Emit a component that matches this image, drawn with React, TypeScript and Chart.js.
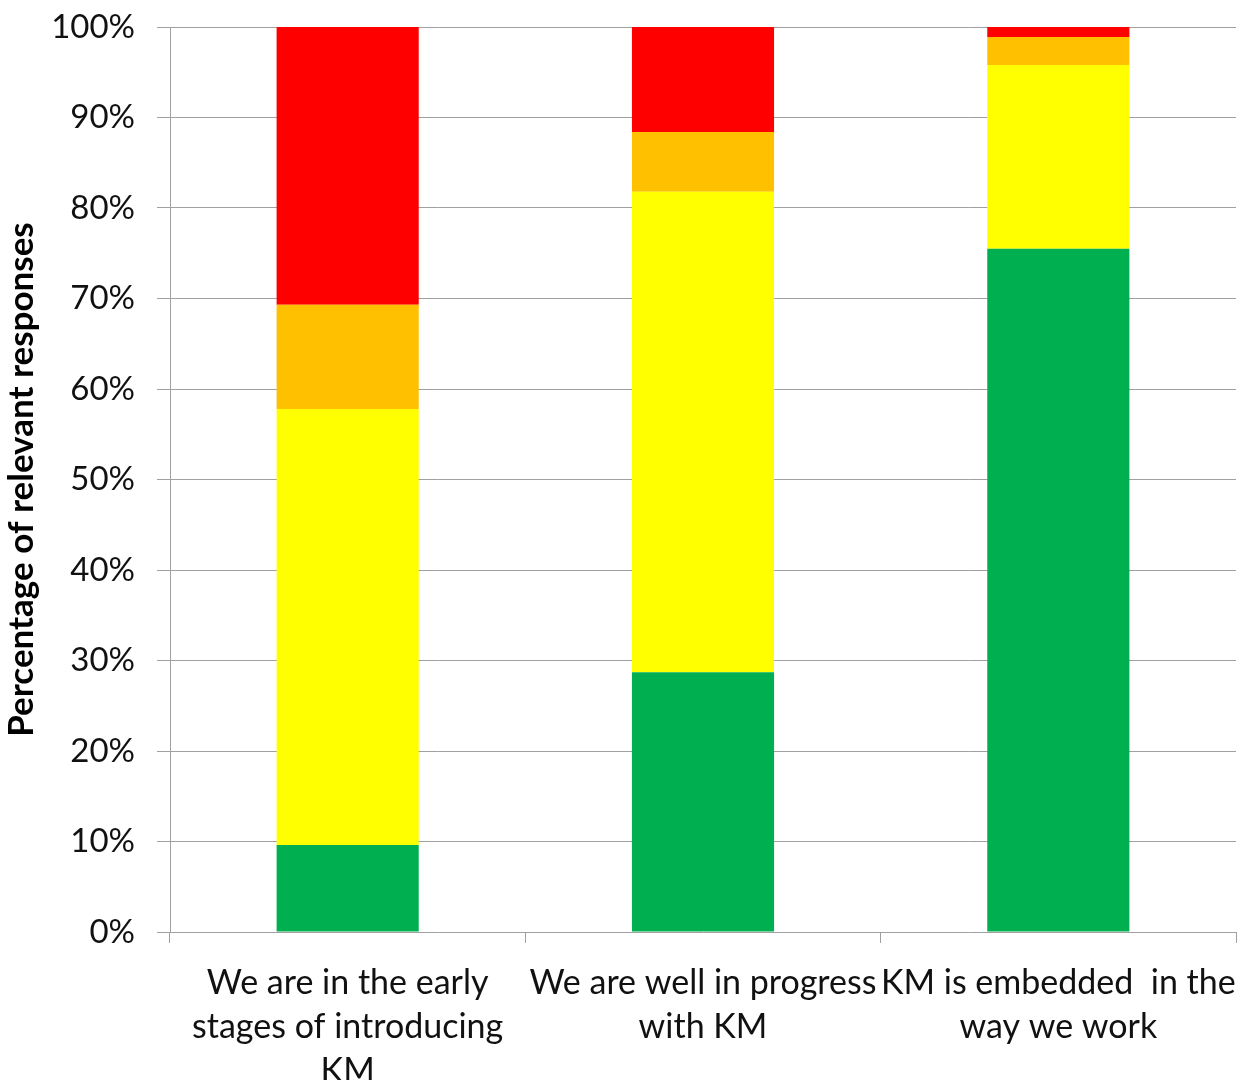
import React, { useEffect, useRef } from "react";
import { Chart, registerables } from "chart.js";

Chart.register(...registerables);

// Stage of knowledge-management adoption (one stacked bar each)
const categories: string[][] = [
  ["We are in the early", "stages of introducing", "KM"],
  ["We are well in progress", "with KM"],
  ["KM is embedded  in the", "way we work"],
];

// Share of responses per rating band, in percent
const greenValues = [9.6, 28.7, 75.5];
const yellowValues = [48.2, 53.1, 20.3];
const orangeValues = [11.5, 6.6, 3.1];
const redValues = [30.7, 11.6, 1.1];

const yTickValues = [0, 10, 20, 30, 40, 50, 60, 70, 80, 90, 100];

const FONT = "Lato, 'Open Sans', 'Noto Sans', sans-serif";
const GRID = "#a0a0a0";
const TEXT = "#111111";

export default function App() {
  const canvasRef = useRef<HTMLCanvasElement | null>(null);

  useEffect(() => {
    const canvas = canvasRef.current;
    if (!canvas) return;
    const chart = new Chart(canvas, {
      type: "bar",
      data: {
        labels: categories,
        datasets: [
          { label: "Green", data: greenValues, backgroundColor: "#00b050" },
          { label: "Yellow", data: yellowValues, backgroundColor: "#ffff00" },
          { label: "Amber", data: orangeValues, backgroundColor: "#ffc000" },
          { label: "Red", data: redValues, backgroundColor: "#ff0000" },
        ],
      },
      options: {
        responsive: false,
        animation: false,
        devicePixelRatio: 1,
        layout: { padding: { top: 27, right: 4, left: 0, bottom: 0 } },
        datasets: {
          bar: { barPercentage: 0.4, categoryPercentage: 1, borderWidth: 0 },
        },
        plugins: {
          legend: { display: false },
          tooltip: { enabled: false },
        },
        scales: {
          x: {
            stacked: true,
            offset: true,
            grid: {
              offset: true,
              drawOnChartArea: false,
              drawTicks: true,
              tickLength: 11,
              color: GRID,
              lineWidth: 1,
            },
            border: { display: false },
            ticks: {
              color: TEXT,
              padding: 18,
              maxRotation: 0,
              autoSkip: false,
              font: { family: FONT, size: 34, lineHeight: 1.3 },
            },
            afterFit: (scale: any) => {
              // fixed band below the plot; labels may overhang the edges
              scale.height = 148;
              scale.paddingLeft = 0;
              scale.paddingRight = 0;
            },
          },
          y: {
            stacked: true,
            min: 0,
            max: 100,
            afterBuildTicks: (scale: any) => {
              scale.ticks = yTickValues.map((v) => ({ value: v }));
            },
            grid: {
              color: GRID,
              lineWidth: 1,
              tickLength: 13,
            },
            border: { display: true, color: GRID, width: 1 },
            ticks: {
              color: TEXT,
              padding: 22,
              font: { family: FONT, size: 33 },
              callback: (v: any) => `${v}%`,
            },
            title: {
              display: true,
              text: "Percentage of relevant responses",
              color: "#000000",
              font: { family: FONT, size: 35, weight: "bold" },
              padding: { top: 1, bottom: 0 },
            },
            afterFit: (scale: any) => {
              scale.width = 170;
              scale.paddingTop = 0;
              scale.paddingBottom = 0;
            },
          },
        },
      },
    });
    return () => chart.destroy();
  }, []);

  return (
    <div
      style={{
        position: "fixed",
        left: 0,
        top: 0,
        width: 1240,
        height: 1080,
        background: "#ffffff",
      }}
    >
      <canvas ref={canvasRef} width={1240} height={1080} />
    </div>
  );
}
